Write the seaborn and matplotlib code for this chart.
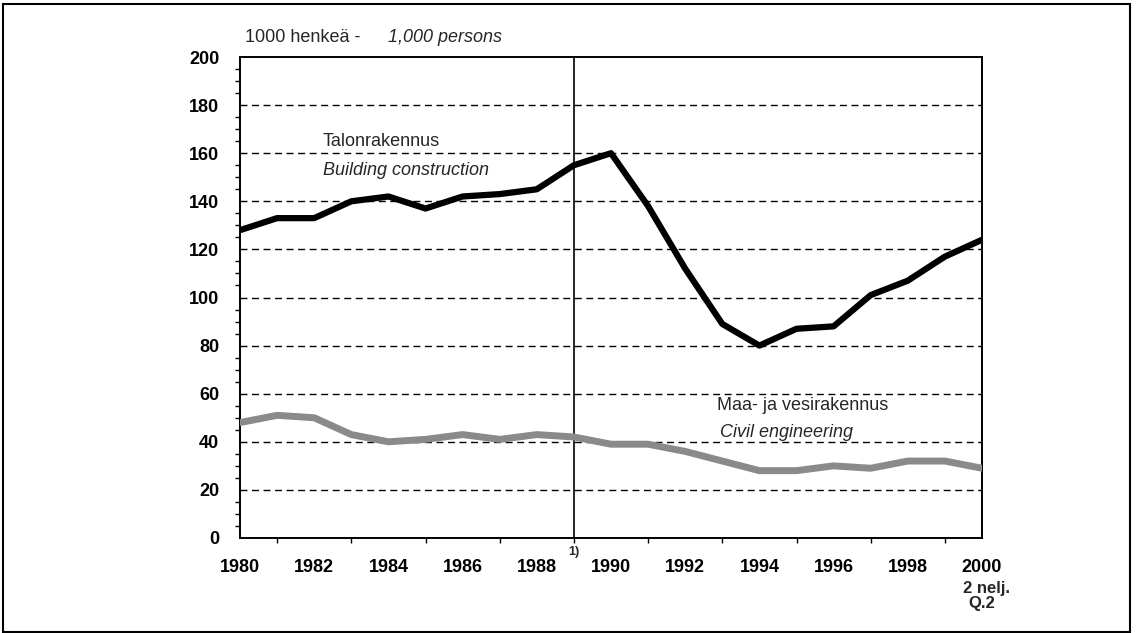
import pandas as pd
import seaborn as sns
import matplotlib.pyplot as plt
from matplotlib.patches import Rectangle
from matplotlib.ticker import MultipleLocator

years = list(range(1980, 2001))
building = [128, 133, 133, 140, 142, 137, 142, 143, 145, 155, 160,
            138, 112, 89, 80, 87, 88, 101, 107, 117, 124]
civil = [48, 51, 50, 43, 40, 41, 43, 41, 43, 42, 39,
         39, 36, 32, 28, 28, 30, 29, 32, 32, 29]
y_ticks = list(range(0, 201, 20))
x_ticks = list(range(1980, 2001, 2))

df = pd.DataFrame({'Vuosi': years, 'Talonrakennus': building, 'Maa- ja vesirakennus': civil})

sns.set_style("white")
plt.rcParams['font.family'] = ['Liberation Sans', 'DejaVu Sans']

fig = plt.figure(figsize=(11.36, 6.33), dpi=100)
ax = fig.add_axes([240/1136, 1-538/633, (982-240)/1136, (538-57)/633])

# grid first, under the lines
for y in y_ticks[1:-1]:
    ax.axhline(y, color='black', lw=1, linestyle=(0, (5, 3.3)), zorder=1)
ax.axvline(1989, color='black', lw=1.2, zorder=2)

sns.lineplot(data=df, x='Vuosi', y='Maa- ja vesirakennus', color='#8a8a8a', lw=5,
             solid_joinstyle='round', ax=ax, zorder=3)
sns.lineplot(data=df, x='Vuosi', y='Talonrakennus', color='black', lw=4.5,
             solid_joinstyle='round', ax=ax, zorder=4)

ax.set_xlim(1980, 2000)
ax.set_ylim(0, 200)
ax.set_xticks(x_ticks)
ax.set_yticks(y_ticks)
ax.xaxis.set_minor_locator(MultipleLocator(1))
ax.yaxis.set_minor_locator(MultipleLocator(5))
ax.set_xlabel('')
ax.set_ylabel('')
for s in ax.spines.values():
    s.set_linewidth(1.4)
    s.set_color('black')
ax.tick_params(axis='both', which='major', direction='out', length=7, width=1.2,
               labelsize=13, colors='black')
ax.tick_params(axis='x', which='major', length=8, pad=7)
ax.tick_params(axis='y', which='major', pad=8)
ax.tick_params(axis='both', which='minor', direction='out', length=3.5, width=1, colors='black')
ax.tick_params(axis='x', which='minor', bottom=True)
ax.tick_params(axis='y', which='minor', left=True)
for lab in ax.get_xticklabels() + ax.get_yticklabels():
    lab.set_fontweight('bold')

# texts
ax.text(1980.13, 208, '1000 henkeä -', fontsize=13, va='center', ha='left', clip_on=False)
ax.text(1984.0, 208, '1,000 persons', fontsize=13, style='italic', va='center', ha='left', clip_on=False)
ax.text(1982.24, 165, 'Talonrakennus', fontsize=13, va='center', ha='left')
ax.text(1982.24, 153, 'Building construction', fontsize=13, style='italic', va='center', ha='left')
ax.text(1992.86, 55, 'Maa- ja vesirakennus', fontsize=13, va='center', ha='left')
ax.text(1992.94, 44, 'Civil engineering', fontsize=13, style='italic', va='center', ha='left')
ax.text(1989.0, -6, '1)', fontsize=9, fontweight='bold', va='center', ha='center', clip_on=False)
ax.text(2000.13, -20.8, '2 nelj.', fontsize=12, fontweight='bold', va='center', ha='center', clip_on=False)
ax.text(2000.0, -27.2, 'Q.2', fontsize=12, fontweight='bold', va='center', ha='center', clip_on=False)

# outer frame
fig.patches.append(Rectangle((3/1136, 1-632/633), (1130-3)/1136, (632-4)/633,
                             transform=fig.transFigure, fill=False, ec='black', lw=1.5))

fig.savefig('out.png', dpi=100)
